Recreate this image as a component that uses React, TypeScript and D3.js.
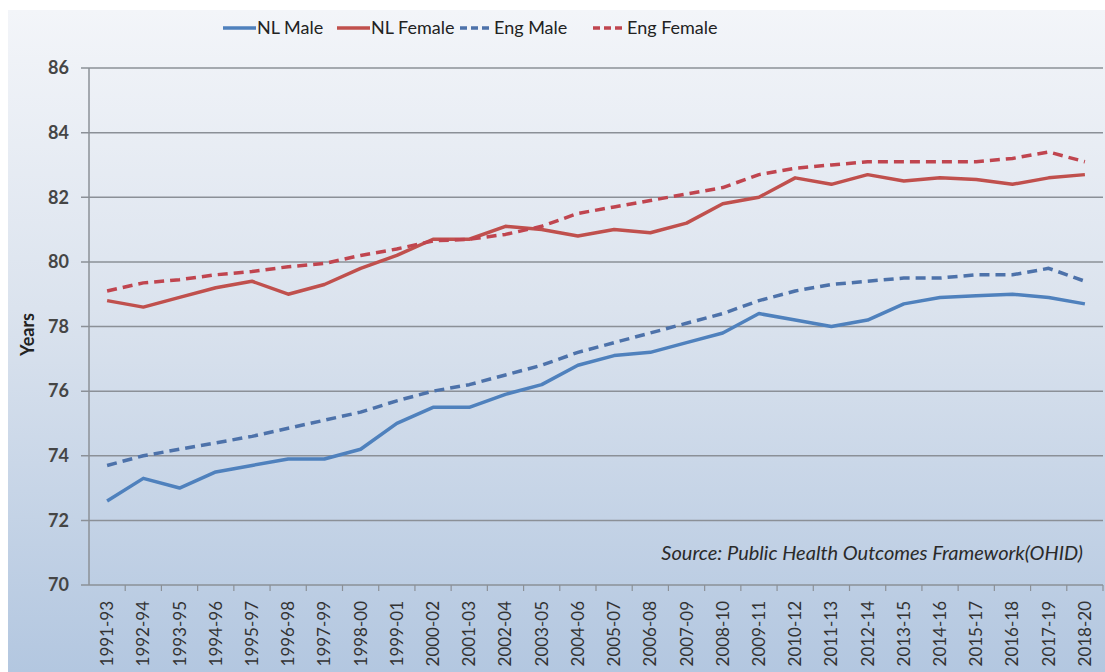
import React from 'react';
import * as d3 from 'd3';

const periods = [
  '1991-93', '1992-94', '1993-95', '1994-96', '1995-97', '1996-98', '1997-99',
  '1998-00', '1999-01', '2000-02', '2001-03', '2002-04', '2003-05', '2004-06',
  '2005-07', '2006-08', '2007-09', '2008-10', '2009-11', '2010-12', '2011-13',
  '2012-14', '2013-15', '2014-16', '2015-17', '2016-18', '2017-19', '2018-20',
];

const nlMale = [72.6, 73.3, 73.0, 73.5, 73.7, 73.9, 73.9, 74.2, 75.0, 75.5, 75.5, 75.9, 76.2, 76.8,
  77.1, 77.2, 77.5, 77.8, 78.4, 78.2, 78.0, 78.2, 78.7, 78.9, 78.95, 79.0, 78.9, 78.7];
const nlFemale = [78.8, 78.6, 78.9, 79.2, 79.4, 79.0, 79.3, 79.8, 80.2, 80.7, 80.7, 81.1, 81.0, 80.8,
  81.0, 80.9, 81.2, 81.8, 82.0, 82.6, 82.4, 82.7, 82.5, 82.6, 82.55, 82.4, 82.6, 82.7];
const engMale = [73.7, 74.0, 74.2, 74.4, 74.6, 74.85, 75.1, 75.35, 75.7, 76.0, 76.2, 76.5, 76.8, 77.2,
  77.5, 77.8, 78.1, 78.4, 78.8, 79.1, 79.3, 79.4, 79.5, 79.5, 79.6, 79.6, 79.8, 79.4];
const engFemale = [79.1, 79.35, 79.45, 79.6, 79.7, 79.85, 79.95, 80.2, 80.4, 80.65, 80.7, 80.85, 81.1, 81.5,
  81.7, 81.9, 82.1, 82.3, 82.7, 82.9, 83.0, 83.1, 83.1, 83.1, 83.1, 83.2, 83.4, 83.1];

const yTicks = [70, 72, 74, 76, 78, 80, 82, 84, 86];

const series = [
  { name: 'NL Male', values: nlMale, color: '#4f81bd', dash: '' },
  { name: 'NL Female', values: nlFemale, color: '#c0504d', dash: '' },
  { name: 'Eng Male', values: engMale, color: '#4d72aa', dash: '10,6' },
  { name: 'Eng Female', values: engFemale, color: '#c0454f', dash: '10,6' },
];

const W = 1105;
const H = 672;
const left = 89;
const right = 1103;
const top = 68;
const bottom = 585;
const font = 'Lato, "Open Sans", sans-serif';

const App: React.FC = () => {
  const x = d3.scaleBand().domain(periods).range([left, right]).padding(0);
  const y = d3.scaleLinear().domain([70, 86]).range([bottom, top]);
  const line = d3.line<number>()
    .x((_, i) => (x(periods[i]) || 0) + x.bandwidth() / 2)
    .y(d => y(d));

  const legendX = [223, 337, 460, 593];

  return (
    <svg width={W} height={H} style={{ position: 'absolute', left: 0, top: 0 }} fontFamily={font}>
      <defs>
        <linearGradient id="bg" x1="0" y1="0" x2="0" y2="1">
          <stop offset="0" stopColor="#f3f5f9" />
          <stop offset="0.45" stopColor="#dbe3ee" />
          <stop offset="1" stopColor="#b3c7e0" />
        </linearGradient>
      </defs>
      <rect x={0} y={0} width={W} height={H} fill="#fff" />
      <rect x={8} y={10} width={W - 8} height={H - 10} fill="url(#bg)" />

      {/* gridlines */}
      {yTicks.map(t => (
        <g key={t}>
          <line x1={left - 8} x2={right} y1={y(t)} y2={y(t)} stroke="#8b9097" strokeWidth={1.5} />
          <text x={left - 20} y={y(t)} dy="0.35em" textAnchor="end" fontSize={18} fontWeight="bold" fill="#454545">{t}</text>
        </g>
      ))}
      <line x1={left} x2={left} y1={top} y2={bottom} stroke="#8b9097" strokeWidth={1.5} />
      {periods.map((p, i) => (
        <line key={'t' + p} x1={left + (i + 1) * x.bandwidth()} x2={left + (i + 1) * x.bandwidth()}
          y1={bottom} y2={bottom + 6} stroke="#8b9097" strokeWidth={1.2} />
      ))}
      {periods.map(p => {
        const cx = (x(p) || 0) + x.bandwidth() / 2;
        return (
          <text key={p} transform={`translate(${cx + 6},${bottom + 16}) rotate(-90)`} textAnchor="end"
            fontSize={17} fill="#333">{p}</text>
        );
      })}

      <text transform={`translate(34,${(top + bottom) / 2 + 8}) rotate(-90)`} textAnchor="middle"
        fontSize={18} fontWeight="bold" fill="#222">Years</text>

      {series.map(s => (
        <path key={s.name} d={line(s.values) || ''} fill="none" stroke={s.color} strokeWidth={3.5}
          strokeDasharray={s.dash} strokeLinejoin="round" />
      ))}

      {/* legend */}
      {series.map((s, i) => (
        <g key={'lg' + s.name}>
          <line x1={legendX[i]} x2={legendX[i] + 33} y1={28} y2={28} stroke={s.color} strokeWidth={3.5}
            strokeDasharray={s.dash ? '7,4' : ''} />
          <text x={legendX[i] + 34} y={28} dy="0.35em" fontSize={18} fill="#222">{s.name}</text>
        </g>
      ))}

      <text x={1083} y={560} textAnchor="end" fontSize={20} fontStyle="italic" fill="#2a2a2a">
        Source: Public Health Outcomes Framework(OHID)
      </text>
    </svg>
  );
};

export default App;
